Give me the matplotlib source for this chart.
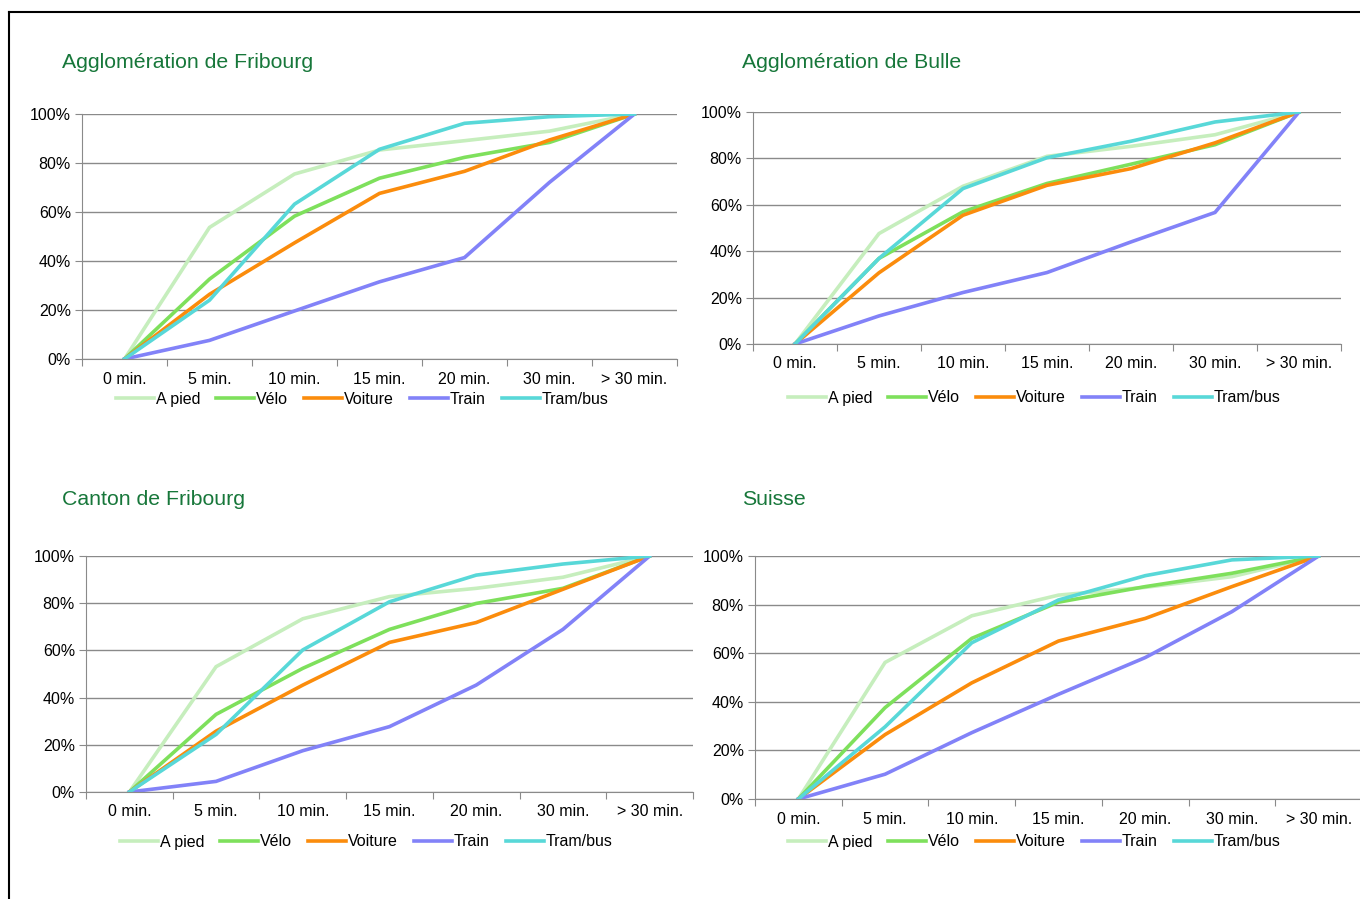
import matplotlib.pyplot as plt
from matplotlib.lines import Line2D

plt.rcParams['font.family'] = ['Liberation Sans', 'DejaVu Sans']

categories = ['0 min.', '5 min.', '10 min.', '15 min.', '20 min.', '30 min.', '> 30 min.']
modes = ['A pied', 'Vélo', 'Voiture', 'Train', 'Tram/bus']
colors = ['#c6eebd', '#7ee05c', '#fb8c0c', '#8282f8', '#58d8d8']

# cumulative shares (%) per mode
agglo_fribourg = {
    'A pied':   [0, 53.7, 75.5, 85.3, 89.1, 93.0, 100],
    'Vélo':     [0, 32.6, 58.3, 73.8, 82.3, 88.4, 100],
    'Voiture':  [0, 26.4, 47.4, 67.6, 76.6, 89.4, 100],
    'Train':    [0, 7.6, 19.6, 31.5, 41.4, 72.1, 100],
    'Tram/bus': [0, 24.0, 63.2, 85.6, 96.2, 98.9, 100],
}
agglo_bulle = {
    'A pied':   [0, 47.6, 68.0, 80.9, 85.2, 90.2, 100],
    'Vélo':     [0, 36.9, 57.0, 69.2, 77.5, 85.9, 100],
    'Voiture':  [0, 30.7, 55.5, 68.4, 75.6, 86.7, 100],
    'Train':    [0, 12.1, 22.2, 30.8, 44.0, 56.7, 100],
    'Tram/bus': [0, 36.9, 67.0, 80.3, 87.4, 95.7, 100],
}
canton_fribourg = {
    'A pied':   [0, 53.1, 73.4, 82.8, 86.3, 91.0, 100],
    'Vélo':     [0, 32.9, 52.4, 68.9, 79.9, 86.3, 100],
    'Voiture':  [0, 25.8, 45.3, 63.4, 71.8, 85.9, 100],
    'Train':    [0, 4.5, 17.5, 27.7, 45.3, 68.9, 100],
    'Tram/bus': [0, 24.4, 60.2, 80.6, 91.9, 96.6, 100],
}
suisse = {
    'A pied':   [0, 56.2, 75.4, 83.9, 87.1, 91.5, 100],
    'Vélo':     [0, 37.6, 66.1, 81.0, 87.4, 92.9, 100],
    'Voiture':  [0, 26.5, 47.8, 65.0, 74.3, 87.4, 100],
    'Train':    [0, 10.2, 27.3, 43.1, 58.2, 77.1, 100],
    'Tram/bus': [0, 29.7, 64.3, 81.9, 91.9, 98.4, 100],
}

W, H = 1360, 899
fig = plt.figure(figsize=(13.6, 8.99), dpi=100)

def fx(px):
    return px / W

def fy(py):
    return 1 - py / H

# (title, data, axes box px: left, top, right, bottom, title pos, legend centre)
panels = [
    ('Agglomération de Fribourg', agglo_fribourg, (82, 114, 677, 359), (62, 63), (362, 399)),
    ('Agglomération de Bulle', agglo_bulle, (753, 112, 1341, 344), (742, 62), (1034, 398)),
    ('Canton de Fribourg', canton_fribourg, (86, 556, 693, 792), (62, 500), (366, 842)),
    ('Suisse', suisse, (755, 556, 1362, 799), (742, 500), (1034, 842)),
]

grey = '#8a8a8a'
x = list(range(len(categories)))

for title, data, box, tpos, lpos in panels:
    l, t, r, b = box
    ax = fig.add_axes([fx(l), fy(b), fx(r - l), (b - t) / H])
    for m, c in zip(modes, colors):
        ax.plot(x, data[m], color=c, lw=2.6, label=m, solid_joinstyle='miter')
    ax.set_xlim(-0.5, len(categories) - 0.5)
    ax.set_ylim(0, 100)
    ax.set_yticks(range(0, 101, 20))
    ax.set_yticklabels([f'{v}%' for v in range(0, 101, 20)], fontsize=11.5)
    ax.set_xticks([i + 0.5 for i in range(-1, len(categories))])
    ax.set_xticklabels([])
    ax.set_xticks(x, minor=True)
    ax.set_xticklabels(categories, minor=True, fontsize=11.5)
    ax.tick_params(axis='x', which='minor', length=0, pad=9)
    ax.tick_params(axis='x', which='major', length=5, color=grey)
    ax.tick_params(axis='y', length=5, color=grey, pad=3)
    ax.grid(axis='y', color=grey, lw=1)
    ax.set_axisbelow(True)
    for s in ['top', 'right']:
        ax.spines[s].set_visible(False)
    for s in ['left', 'bottom']:
        ax.spines[s].set_color(grey)
    fig.text(fx(tpos[0]), fy(tpos[1]), title, fontsize=15.3, color='#17773a',
             ha='left', va='center')
    handles, labels = ax.get_legend_handles_labels()
    fig.legend(handles, labels, loc='center', bbox_to_anchor=(fx(lpos[0]), fy(lpos[1])),
               ncol=5, frameon=False, fontsize=11.5, handlelength=2.4,
               handletextpad=0.1, columnspacing=1.0, borderaxespad=0)

# frame around the figure
fig.add_artist(Line2D([fx(9), 1], [fy(12), fy(12)], color='black', lw=1.5))
fig.add_artist(Line2D([fx(9), fx(9)], [0, fy(12)], color='black', lw=1.5))

fig.savefig('out.png', dpi=100)
